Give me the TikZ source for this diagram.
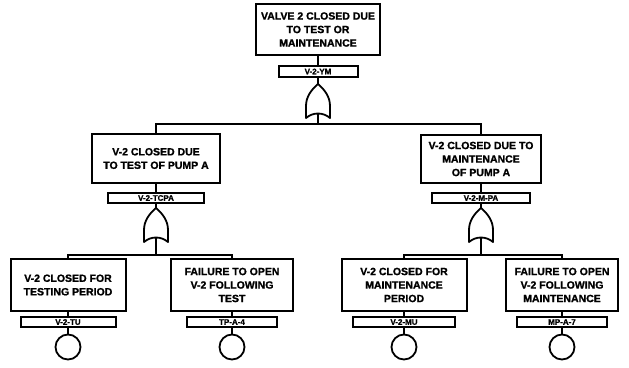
\documentclass[tikz,border=0pt]{standalone}
\usepackage{fontspec}
\setmainfont{Liberation Sans}[BoldFeatures={FakeBold=1.2}]
\begin{document}
\begin{tikzpicture}[x=1pt,y=-1pt,
  event/.style={draw, line width=2pt, inner sep=0pt, align=center,
    font=\fontsize{10.5}{13.5}\selectfont\bfseries},
  tag/.style={draw, line width=2pt, minimum height=10pt, inner sep=0pt,
    font=\fontsize{8}{8}\selectfont\bfseries},
  basic/.style={draw, circle, line width=1.8pt, minimum size=25pt, inner sep=0pt},
  wire/.style={line width=1.6pt},
  orgate/.pic={
    \draw[line width=1.8pt, line join=round]
      (-12,34) -- (-12,22)
      .. controls (-12,13) and (-7,6) .. (0,0)
      .. controls (7,6) and (12,13) .. (12,22) -- (12,34)
      .. controls (5,28) and (-5,28) .. cycle;
    \coordinate (-in) at (0,0);
    \coordinate (-out) at (0,29.5);
  }
]
\useasboundingbox (0,0) rectangle (629,367);

% top event
\node[event, minimum width=124pt, minimum height=51pt] (top) at (318,29.5)
  {VALVE 2 CLOSED DUE\\TO TEST OR\\MAINTENANCE};
\node[tag, minimum width=79pt, minimum height=11pt] (ttop) at (318,71.5) {V-2-YM};
\pic (g0) at (318,84) {orgate};
\coordinate (b0) at (318,124);

% second level
\node[event, minimum width=128pt, minimum height=49pt] (ml) at (156,158.5)
  {V-2 CLOSED DUE\\TO TEST OF PUMP A};
\node[tag, minimum width=96pt] (tml) at (156,198) {V-2-TCPA};
\pic (g1) at (156,208) {orgate};
\coordinate (b1) at (156,255);

\node[event, minimum width=120pt, minimum height=48pt] (mr) at (481,159)
  {V-2 CLOSED DUE TO\\MAINTENANCE\\OF PUMP A};
\node[tag, minimum width=98pt] (tmr) at (481,198) {V-2-M-PA};
\pic (g2) at (481,208) {orgate};
\coordinate (b2) at (481,255);

% basic events
\node[event, minimum width=115pt, minimum height=52pt] (e1) at (68,285)
  {V-2 CLOSED FOR\\TESTING PERIOD};
\node[tag, minimum width=95pt] (t1) at (68,322) {V-2-TU};
\node[basic] (c1) at (68,347) {};

\node[event, minimum width=122pt, minimum height=52pt] (e2) at (232,285)
  {FAILURE TO OPEN\\V-2 FOLLOWING\\TEST};
\node[tag, minimum width=90pt] (t2) at (232,322) {TP-A-4};
\node[basic] (c2) at (232,347) {};

\node[event, minimum width=125pt, minimum height=52pt] (e3) at (404,285)
  {V-2 CLOSED FOR\\MAINTENANCE\\PERIOD};
\node[tag, minimum width=102pt] (t3) at (404,322) {V-2-MU};
\node[basic] (c3) at (404,347) {};

\node[event, minimum width=112pt, minimum height=52pt] (e4) at (562,285)
  {FAILURE TO OPEN\\V-2 FOLLOWING\\MAINTENANCE};
\node[tag, minimum width=90pt] (t4) at (562,322) {MP-A-7};
\node[basic] (c4) at (562,347) {};

% connectors
\draw[wire] (top.south) -- (ttop.north);
\draw[wire] (ttop.south) -- (g0-in);
\draw[wire] (g0-out) -- (b0);
\draw[wire] (ml.north) -- (ml.north |- b0) -- (mr.north |- b0) -- (mr.north);

\draw[wire] (ml.south) -- (tml.north);
\draw[wire] (tml.south) -- (g1-in);
\draw[wire] (g1-out) -- (b1);
\draw[wire] (e1.north) -- (e1.north |- b1) -- (e2.north |- b1) -- (e2.north);

\draw[wire] (mr.south) -- (tmr.north);
\draw[wire] (tmr.south) -- (g2-in);
\draw[wire] (g2-out) -- (b2);
\draw[wire] (e3.north) -- (e3.north |- b2) -- (e4.north |- b2) -- (e4.north);

\draw[wire] (e1.south) -- (t1.north);
\draw[wire] (t1.south) -- (c1.north);
\draw[wire] (e2.south) -- (t2.north);
\draw[wire] (t2.south) -- (c2.north);
\draw[wire] (e3.south) -- (t3.north);
\draw[wire] (t3.south) -- (c3.north);
\draw[wire] (e4.south) -- (t4.north);
\draw[wire] (t4.south) -- (c4.north);
\end{tikzpicture}
\end{document}
